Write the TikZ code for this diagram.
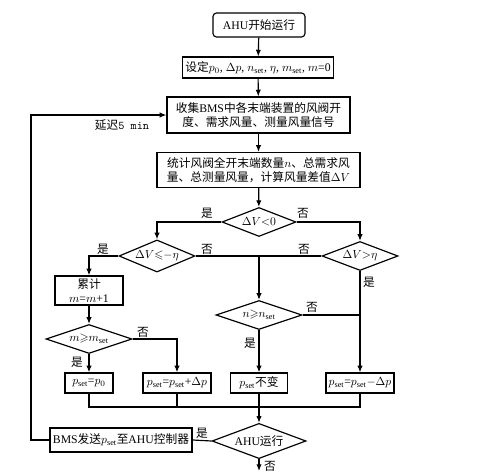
\documentclass[tikz,border=0pt]{standalone}
\usepackage{amssymb}
\usepackage{fontspec}
\setmainfont{Liberation Serif}
\newfontfamily\cjk{Noto Sans CJK SC}
\usetikzlibrary{shapes.geometric,arrows.meta}
\newcommand{\zh}[1]{{\cjk #1}}
\newcommand{\pset}{p_{\mathrm{set}}}
\tikzset{
  flow/.style={draw, line width=1pt, -{Latex[length=2mm,width=1.6mm]}},
  wire/.style={draw, line width=1pt},
  procbox/.style={draw, line width=1pt, align=center, inner sep=1pt, font=\fontsize{10}{12.5}\selectfont},
  decision/.style={draw, diamond, aspect=2, line width=1pt, inner sep=0pt, minimum height=8.7mm, font=\fontsize{10}{12}\selectfont},
  answer/.style={inner sep=0pt, font=\fontsize{10}{12}\selectfont}
}
\begin{document}
\begin{tikzpicture}[x=0.3mm, y=-0.3mm]
  \useasboundingbox[fill=white] (0,0) rectangle (483,474);

  % Main column
  \node[procbox, rounded corners=3pt, minimum width=27.6mm, minimum height=7.2mm] (start) at (259,25) {AHU\zh{开始运行}};
  \node[procbox, minimum width=45.3mm, minimum height=6.3mm] (init) at (258,67.5) {\zh{设定}$p_0$, $\Delta p$, $n_{\mathrm{set}}$, $\eta$, $m_{\mathrm{set}}$, $m$=0};
  \node[procbox, minimum width=54.9mm, minimum height=10.8mm] (collect) at (258.5,115) {\zh{收集}BMS\zh{中各末端装置的风阀开}\\\zh{度、需求风量、测量风量信号}};
  \node[procbox, minimum width=60.9mm, minimum height=10.5mm] (stat) at (258.5,170) {\zh{统计风阀全开末端数量}$n$\zh{、总需求风}\\\zh{量、总测量风量，计算风量差值}$\Delta V$};

  % Decisions
  \node[decision, minimum width=22.2mm] (dv) at (259,222) {$\Delta V{<}0$};
  \node[decision, minimum width=22.8mm] (dvlow) at (157,256) {$\Delta V{\leqslant}{-\eta}$};
  \node[decision, minimum width=22.8mm] (dvhigh) at (360,256) {$\Delta V{>}\eta$};
  \node[procbox, minimum width=20.4mm, minimum height=8.7mm] (count) at (89,290.5) {\zh{累计}\\$m$=$m$+1};
  \node[decision, minimum width=25.8mm] (nchk) at (259,315) {$n{\geqslant}n_{\mathrm{set}}$};
  \node[decision, minimum width=25.8mm] (mchk) at (89,339) {$m{\geqslant}m_{\mathrm{set}}$};

  % Set-point results
  \node[procbox, minimum width=14.4mm, minimum height=6mm] (reset) at (89,383) {$\pset$=$p_0$};
  \node[procbox, minimum width=20.4mm, minimum height=6mm] (raise) at (177,383) {$\pset$=$\pset$+$\Delta p$};
  \node[procbox, minimum width=17.1mm, minimum height=6mm] (keep) at (259,383) {$\pset$\zh{不变}};
  \node[procbox, minimum width=20.4mm, minimum height=6mm] (lower) at (360,383) {$\pset$=$\pset$$-$$\Delta p$};

  % Bottom
  \node[decision, minimum width=28.2mm] (run) at (259,441) {AHU\zh{运行}};
  \node[procbox, minimum width=42.6mm, minimum height=7.2mm] (send) at (121,440) {BMS\zh{发送}$\pset$\zh{至}AHU\zh{控制器}};
  \coordinate (merge) at (259,407);
  \coordinate (loop) at (31,115);
  \coordinate (stop) at (259,471);

  % Connectors
  \draw[flow] (start) -- (init);
  \draw[flow] (init) -- (collect);
  \draw[flow] (collect) -- (stat);
  \draw[flow] (stat) -- (dv);
  \draw[flow] (dv.west) -| (dvlow.north);
  \draw[flow] (dv.east) -| (dvhigh.north);
  \draw[flow] (dvlow.west) -| (count.north);
  \draw[wire] (dvlow.east) -- (dvhigh.west);
  \draw[flow] (dvlow.east -| nchk.north) -- (nchk.north);
  \draw[flow] (dvhigh.south) -- (lower.north);
  \draw[wire] (nchk.east) -- (nchk.east -| dvhigh.south);
  \draw[flow] (nchk.south) -- (keep.north);
  \draw[flow] (count.south) -- (mchk.north);
  \draw[flow] (mchk.south) -- (reset.north);
  \draw[flow] (mchk.east) -| (raise.north);
  \draw[wire] (reset.south) |- (merge) -| (lower.south);
  \draw[wire] (raise.south) -- (raise.south |- merge);
  \draw[wire] (keep.south) -- (merge);
  \draw[flow] (merge) -- (run.north);
  \draw[wire] (run.west) -- (send.east);
  \draw[flow] (send.west) -| (loop) -- (collect.west);
  \draw[flow] (run.south) -- (stop);

  % Labels
  \node[answer] (dvyes) at (207,213) {\zh{是}};
  \node[answer] (dvno) at (303,213) {\zh{否}};
  \node[answer] (lowyes) at (103,249) {\zh{是}};
  \node[answer] (lowno) at (207,249) {\zh{否}};
  \node[answer] (highno) at (304,249) {\zh{否}};
  \node[answer] (highyes) at (369,282) {\zh{是}};
  \node[answer] (nno) at (312,307) {\zh{否}};
  \node[answer] (nyes) at (250,343) {\zh{是}};
  \node[answer] (mno) at (143,332) {\zh{否}};
  \node[answer] (myes) at (77,362) {\zh{是}};
  \node[answer] (runyes) at (202,433) {\zh{是}};
  \node[answer] (runno) at (270,466) {\zh{否}};
  \node[answer] (delay) at (122,125) {\zh{延迟}\texttt{5 min}};
\end{tikzpicture}
\end{document}
